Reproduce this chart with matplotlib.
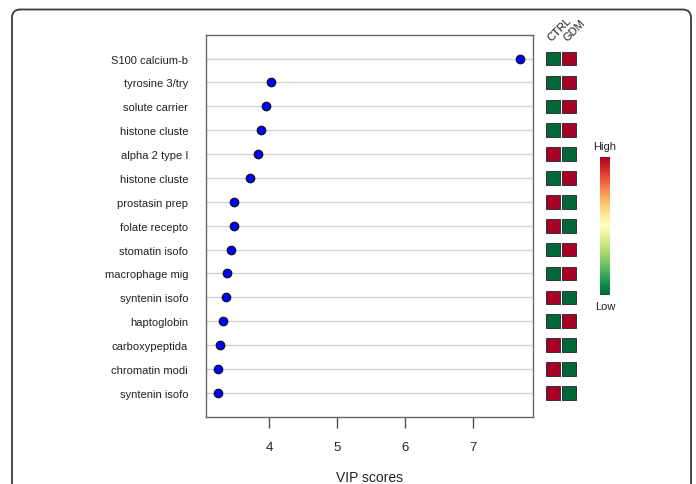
import matplotlib
matplotlib.use("Agg")
import matplotlib.pyplot as plt
import numpy as np
from matplotlib.patches import Rectangle, FancyBboxPatch

plt.rcParams['font.family'] = ['Liberation Sans', 'DejaVu Sans']

proteins = ["S100 calcium-b", "tyrosine 3/try", "solute carrier", "histone cluste",
            "alpha 2 type I", "histone cluste", "prostasin prep", "folate recepto",
            "stomatin isofo", "macrophage mig", "syntenin isofo", "haptoglobin",
            "carboxypeptida", "chromatin modi", "syntenin isofo"]
vip = [7.70, 4.02, 3.95, 3.88, 3.84, 3.715, 3.475, 3.475, 3.44, 3.375, 3.36, 3.31, 3.28, 3.25, 3.24]
groups = ["CTRL", "GDM"]
ctrl_level = [0, 0, 0, 0, 1, 0, 1, 1, 0, 0, 1, 0, 1, 1, 1]
gdm_level = [1, 1, 1, 1, 0, 1, 0, 0, 1, 1, 0, 1, 0, 0, 0]
xticks = [4, 5, 6, 7]

W, H = 696, 485
fig = plt.figure(figsize=(W / 100, H / 100), dpi=100)

def fx(px):
    return px / W

def fy(py):
    return 1 - py / H

# frame around figure
frame = FancyBboxPatch((fx(12), fy(520)), fx(691) - fx(12), fy(10.5) - fy(520),
                       boxstyle="round,pad=0,rounding_size=0.012",
                       transform=fig.transFigure, facecolor='none',
                       edgecolor='#3a3a3a', linewidth=1.3, mutation_aspect=W / H)
fig.patches.append(frame)

# main dot chart
ax = fig.add_axes([fx(205.7), fy(417.7), fx(532.7) - fx(205.7), fy(35.7) - fy(417.7)])
n = len(proteins)
ypos = np.arange(1, n + 1)
for y in ypos:
    ax.axhline(y, color='#d3d3d3', lw=1.0, zorder=1)
ax.plot(vip, ypos, 'o', ms=6.2, mfc='#0000ff', mec='#111111', mew=0.8, zorder=3)
ax.set_xlim(3.062, 7.885)
ax.set_ylim(n + 1, 0)
ax.set_yticks(ypos)
ax.set_yticklabels(proteins, fontsize=8, color='#222222')
ax.tick_params(axis='y', length=0, pad=12.7)
ax.set_xticks(xticks)
ax.set_xticklabels([str(t) for t in xticks], fontsize=9.5, color='#222222')
ax.tick_params(axis='x', length=8, width=1, color='#555555', pad=9.5, direction='out')
ax.set_xlabel("VIP scores", fontsize=10, color='#222222', labelpad=12)
for s in ax.spines.values():
    s.set_color('#666666')
    s.set_linewidth(1.0)

# heatmap
cmap = plt.get_cmap('RdYlGn_r')
axh = fig.add_axes([fx(545), fy(417.7), fx(577) - fx(545), fy(35.7) - fy(417.7)])
axh.set_xlim(0, 2)
axh.set_ylim(n + 1, 0)
axh.axis('off')
sq_w = 13.3 / 16
sq_h = 13.6 / 23.87
for i, y in enumerate(ypos):
    for j, lev in enumerate([ctrl_level[i], gdm_level[i]]):
        axh.add_patch(Rectangle((j + (1 - sq_w) / 2, y - sq_h / 2), sq_w, sq_h,
                                facecolor=cmap(0.0 if lev == 0 else 1.0),
                                edgecolor='#333333', linewidth=0.7))
for j, g in enumerate(groups):
    axh.text(j + 0.5, 0.33, g, rotation=45, rotation_mode='anchor',
             ha='left', va='bottom', fontsize=8, color='#222222', clip_on=False)

# colorbar
axc = fig.add_axes([fx(600), fy(296), fx(610) - fx(600), fy(158) - fy(296)])
grad = np.linspace(0, 1, 256).reshape(-1, 1)
axc.imshow(grad, aspect='auto', cmap=cmap, origin='lower')
axc.axis('off')
fig.text(fx(605), fy(147), "High", ha='center', va='center', fontsize=8, color='#222222')
fig.text(fx(605), fy(307), "Low", ha='center', va='center', fontsize=8, color='#222222')

fig.savefig("out.png", dpi=100)
